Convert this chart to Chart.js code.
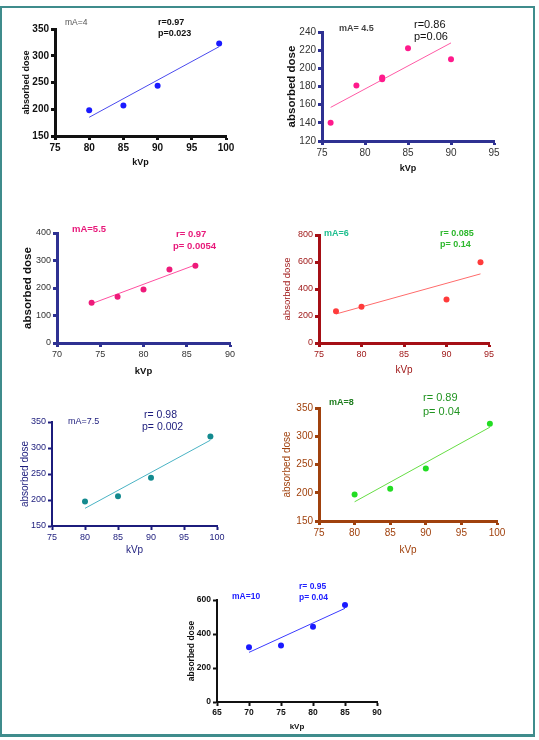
<!DOCTYPE html>
<html>
<head>
<meta charset="utf-8">
<script src="https://cdn.jsdelivr.net/npm/chart.js@4.4.0/dist/chart.umd.min.js"></script>
<style>
  body { margin: 0; background: #fff; width: 539px; height: 740px; position: relative; overflow: hidden; }
  #frame { position: absolute; left: 0; top: 6px; width: 531px; height: 726px; border: 2px solid #3f8c8c; border-bottom-width: 3px; }
  canvas { position: absolute; }
</style>
</head>
<body>
<div id="frame"></div>
<canvas id="c1"></canvas>
<canvas id="c2"></canvas>
<canvas id="c3"></canvas>
<canvas id="c4"></canvas>
<canvas id="c5"></canvas>
<canvas id="c6"></canvas>
<canvas id="c7"></canvas>
<script>
// mA = 4
var kvp1 = [80, 85, 90, 99];
var dose1 = [198, 207, 244, 323];
var fitX1 = [80, 99];
var fitY1 = [185, 317];
var xTicks1 = [75, 80, 85, 90, 95, 100];
var yTicks1 = [150, 200, 250, 300, 350];

// mA = 4.5
var kvp2 = [76, 79, 82, 82, 85, 90];
var dose2 = [140, 181, 190, 188, 222, 210];
var fitX2 = [76, 90];
var fitY2 = [157, 228];
var xTicks2 = [75, 80, 85, 90, 95];
var yTicks2 = [120, 140, 160, 180, 200, 220, 240];

// mA = 5.5
var kvp3 = [74, 77, 80, 83, 86];
var dose3 = [146, 168, 195, 267, 281];
var fitX3 = [74, 86];
var fitY3 = [143, 284];
var xTicks3 = [70, 75, 80, 85, 90];
var yTicks3 = [0, 100, 200, 300, 400];

// mA = 6
var kvp4 = [77, 80, 90, 94];
var dose4 = [235, 268, 322, 598];
var fitX4 = [77, 94];
var fitY4 = [215, 512];
var xTicks4 = [75, 80, 85, 90, 95];
var yTicks4 = [0, 200, 400, 600, 800];

// mA = 7.5
var kvp5 = [80, 85, 90, 99];
var dose5 = [197, 207, 243, 322];
var fitX5 = [80, 99];
var fitY5 = [184, 315];
var xTicks5 = [75, 80, 85, 90, 95, 100];
var yTicks5 = [150, 200, 250, 300, 350];

// mA = 8
var kvp6 = [80, 85, 90, 99];
var dose6 = [197, 207, 243, 322];
var fitX6 = [80, 99];
var fitY6 = [184, 316];
var xTicks6 = [75, 80, 85, 90, 95, 100];
var yTicks6 = [150, 200, 250, 300, 350];

// mA = 10
var kvp7 = [70, 75, 80, 85];
var dose7 = [322, 333, 443, 570];
var fitX7 = [70, 85];
var fitY7 = [292, 551];
var xTicks7 = [65, 70, 75, 80, 85, 90];
var yTicks7 = [0, 200, 400, 600];

var FONT = "'Liberation Sans', Arial, sans-serif";

function pts(xs, ys) {
  return xs.map(function (x, i) { return { x: x, y: ys[i] }; });
}

function makeChart(p) {
  var yLh = p.yTitleSize * 1.2, xLh = p.xTitleSize * 1.2;
  var left = Math.round(p.yTitleX - yLh / 2);
  var top = p.area.T - 22;
  var right = p.area.R + 14;
  var bottom = Math.round(p.xTitleY + xLh / 2);
  var yW = p.area.L - left;
  var xH = bottom - p.area.B;
  var cv = document.getElementById(p.id);
  cv.width = right - left;
  cv.height = bottom - top;
  cv.style.left = left + 'px';
  cv.style.top = top + 'px';

  var notes = {
    id: 'notes',
    afterDraw: function (chart) {
      var ctx = chart.ctx;
      p.notes.forEach(function (t) {
        ctx.save();
        ctx.font = t.font + ' ' + FONT;
        ctx.fillStyle = t.color;
        ctx.textBaseline = 'middle';
        ctx.fillText(t.text, t.x - left, t.y - top);
        ctx.restore();
      });
    }
  };

  function axis(ticks, title, titleSize, fit) {
    return {
      type: 'linear',
      min: ticks[0],
      max: ticks[ticks.length - 1],
      ticks: { stepSize: ticks[1] - ticks[0], color: p.tickColor, font: { family: FONT, size: p.tickSize, weight: p.tickWeight }, padding: 2 },
      grid: { display: true, drawOnChartArea: false, color: p.axisColor, tickColor: p.axisColor, tickLength: 4, tickWidth: p.axisWidth },
      border: { display: true, color: p.axisColor, width: p.axisWidth },
      title: { display: true, text: title, color: p.titleColor, padding: 0, font: { family: FONT, size: titleSize, weight: p.titleWeight } },
      afterFit: fit
    };
  }

  return new Chart(cv.getContext('2d'), {
    type: 'scatter',
    data: {
      datasets: [{
        data: pts(p.xs, p.ys),
        backgroundColor: p.dotColor,
        borderWidth: 0,
        pointRadius: 3,
        pointHoverRadius: 3
      }, {
        data: pts(p.fx, p.fy),
        showLine: true,
        borderColor: p.lineColor,
        borderWidth: 1,
        pointRadius: 0
      }]
    },
    options: {
      responsive: false,
      animation: false,
      layout: { padding: { left: 0, top: 22, right: 14, bottom: 0 } },
      plugins: { legend: { display: false }, tooltip: { enabled: false } },
      scales: {
        x: axis(p.xTicks, 'kVp', p.xTitleSize, function (s) { s.height = xH; }),
        y: axis(p.yTicks, 'absorbed dose', p.yTitleSize, function (s) { s.width = yW; })
      }
    },
    plugins: [notes]
  });
}

makeChart({
  id: 'c1', area: { L: 55, T: 29, R: 226, B: 136 }, yTitleX: 26, xTitleY: 163,
  xs: kvp1, ys: dose1, fx: fitX1, fy: fitY1, xTicks: xTicks1, yTicks: yTicks1,
  axisColor: '#111', axisWidth: 3, tickColor: '#111', tickSize: 10, tickWeight: 'bold',
  titleColor: '#111', titleWeight: 'bold', yTitleSize: 9, xTitleSize: 9,
  dotColor: '#1a1aff', lineColor: '#4a4aee',
  notes: [
    { text: 'mA=4', x: 65, y: 23, font: '8.5px', color: '#555' },
    { text: 'r=0.97', x: 158, y: 23, font: 'bold 9px', color: '#111' },
    { text: 'p=0.023', x: 158, y: 34, font: 'bold 9px', color: '#111' }
  ]
});

makeChart({
  id: 'c2', area: { L: 322, T: 32, R: 494, B: 141 }, yTitleX: 292, xTitleY: 169,
  xs: kvp2, ys: dose2, fx: fitX2, fy: fitY2, xTicks: xTicks2, yTicks: yTicks2,
  axisColor: '#2e3192', axisWidth: 3, tickColor: '#333', tickSize: 10, tickWeight: 'normal',
  titleColor: '#111', titleWeight: 'bold', yTitleSize: 11.5, xTitleSize: 9,
  dotColor: '#ff1a8c', lineColor: '#ff5aa5',
  notes: [
    { text: 'mA= 4.5', x: 339, y: 29, font: 'bold 9px', color: '#444' },
    { text: 'r=0.86', x: 414, y: 25, font: '11px', color: '#111' },
    { text: 'p=0.06', x: 414, y: 37, font: '11px', color: '#111' }
  ]
});

makeChart({
  id: 'c3', area: { L: 57, T: 233, R: 230, B: 343 }, yTitleX: 28, xTitleY: 371,
  xs: kvp3, ys: dose3, fx: fitX3, fy: fitY3, xTicks: xTicks3, yTicks: yTicks3,
  axisColor: '#2e3192', axisWidth: 3, tickColor: '#333', tickSize: 9, tickWeight: 'normal',
  titleColor: '#111', titleWeight: 'bold', yTitleSize: 11.5, xTitleSize: 9.5,
  dotColor: '#ee1a7a', lineColor: '#ff4fa0',
  notes: [
    { text: 'mA=5.5', x: 72, y: 229, font: 'bold 9.5px', color: '#e8197a' },
    { text: 'r= 0.97', x: 176, y: 234, font: 'bold 9.5px', color: '#e8197a' },
    { text: 'p= 0.0054', x: 173, y: 246, font: 'bold 9.5px', color: '#e8197a' }
  ]
});

makeChart({
  id: 'c4', area: { L: 319, T: 235, R: 489, B: 343 }, yTitleX: 288, xTitleY: 370,
  xs: kvp4, ys: dose4, fx: fitX4, fy: fitY4, xTicks: xTicks4, yTicks: yTicks4,
  axisColor: '#a50f15', axisWidth: 3, tickColor: '#a01a1a', tickSize: 9, tickWeight: 'normal',
  titleColor: '#a01a1a', titleWeight: 'normal', yTitleSize: 9.5, xTitleSize: 10,
  dotColor: '#ff3b3b', lineColor: '#ff6b6b',
  notes: [
    { text: 'mA=6', x: 324, y: 234, font: 'bold 9px', color: '#1fbf8f' },
    { text: 'r= 0.085', x: 440, y: 234, font: 'bold 9px', color: '#2db82d' },
    { text: 'p= 0.14', x: 440, y: 245, font: 'bold 9px', color: '#2db82d' }
  ]
});

makeChart({
  id: 'c5', area: { L: 52, T: 422, R: 217, B: 526 }, yTitleX: 25, xTitleY: 550,
  xs: kvp5, ys: dose5, fx: fitX5, fy: fitY5, xTicks: xTicks5, yTicks: yTicks5,
  axisColor: '#1c1c7c', axisWidth: 2, tickColor: '#1c1c7c', tickSize: 9, tickWeight: 'normal',
  titleColor: '#1c1c7c', titleWeight: 'normal', yTitleSize: 10, xTitleSize: 10,
  dotColor: '#138a8f', lineColor: '#4ab3c4',
  notes: [
    { text: 'mA=7.5', x: 68, y: 422, font: '9px', color: '#1c1c7c' },
    { text: 'r= 0.98', x: 144, y: 415, font: '10.5px', color: '#1c1c7c' },
    { text: 'p= 0.002', x: 142, y: 427, font: '10.5px', color: '#1c1c7c' }
  ]
});

makeChart({
  id: 'c6', area: { L: 319, T: 408, R: 497, B: 521 }, yTitleX: 287, xTitleY: 550,
  xs: kvp6, ys: dose6, fx: fitX6, fy: fitY6, xTicks: xTicks6, yTicks: yTicks6,
  axisColor: '#a0410d', axisWidth: 3, tickColor: '#a0410d', tickSize: 10, tickWeight: 'normal',
  titleColor: '#a0410d', titleWeight: 'normal', yTitleSize: 10, xTitleSize: 10,
  dotColor: '#22dd22', lineColor: '#66dd44',
  notes: [
    { text: 'mA=8', x: 329, y: 403, font: 'bold 9px', color: '#1e7d1e' },
    { text: 'r= 0.89', x: 423, y: 398, font: '11px', color: '#219421' },
    { text: 'p= 0.04', x: 423, y: 412, font: '11px', color: '#219421' }
  ]
});

makeChart({
  id: 'c7', area: { L: 217, T: 600, R: 377, B: 702 }, yTitleX: 192, xTitleY: 727,
  xs: kvp7, ys: dose7, fx: fitX7, fy: fitY7, xTicks: xTicks7, yTicks: yTicks7,
  axisColor: '#111', axisWidth: 2, tickColor: '#111', tickSize: 8.5, tickWeight: 'bold',
  titleColor: '#111', titleWeight: 'bold', yTitleSize: 8.5, xTitleSize: 8,
  dotColor: '#1a1aff', lineColor: '#3a3aff',
  notes: [
    { text: 'mA=10', x: 232, y: 597, font: 'bold 8.5px', color: '#2020ff' },
    { text: 'r= 0.95', x: 299, y: 587, font: 'bold 8.5px', color: '#2020ff' },
    { text: 'p= 0.04', x: 299, y: 598, font: 'bold 8.5px', color: '#2020ff' }
  ]
});
</script>
</body>
</html>
